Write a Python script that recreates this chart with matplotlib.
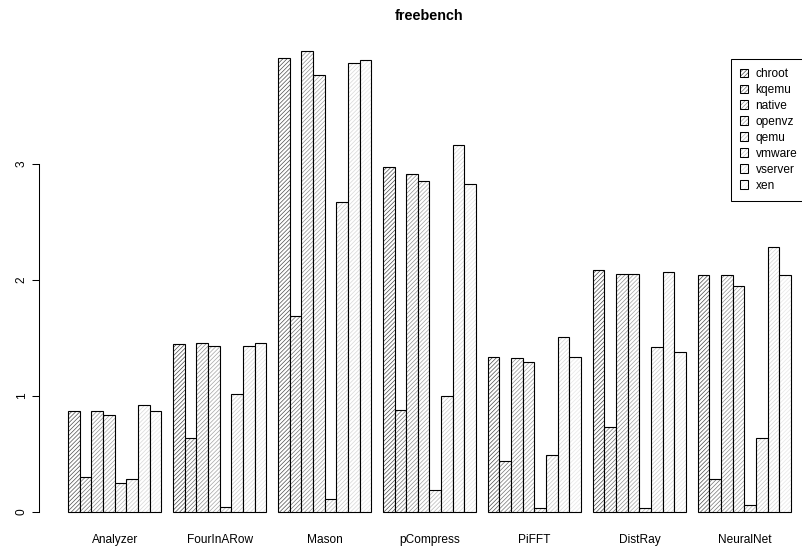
import matplotlib
matplotlib.use("Agg")
import matplotlib.pyplot as plt
from matplotlib.colors import to_rgba
from matplotlib.patches import Patch

plt.rcParams['font.family'] = ['Liberation Sans', 'DejaVu Sans']
plt.rcParams['hatch.linewidth'] = 0.5

benchmarks = ["Analyzer", "FourInARow", "Mason", "pCompress", "PiFFT", "DistRay", "NeuralNet"]
systems = ["chroot", "kqemu", "native", "openvz", "qemu", "vmware", "vserver", "xen"]

# runtime per benchmark, one list per virtualisation system
chroot  = [0.87, 1.45, 3.91, 2.97, 1.34, 2.09, 2.04]
kqemu   = [0.30, 0.64, 1.69, 0.88, 0.44, 0.73, 0.28]
native  = [0.87, 1.46, 3.97, 2.91, 1.33, 2.05, 2.04]
openvz  = [0.84, 1.43, 3.77, 2.85, 1.29, 2.05, 1.95]
qemu    = [0.25, 0.04, 0.11, 0.19, 0.03, 0.03, 0.06]
vmware  = [0.28, 1.02, 2.67, 1.00, 0.49, 1.42, 0.64]
vserver = [0.92, 1.43, 3.87, 3.16, 1.51, 2.07, 2.28]
xen     = [0.87, 1.46, 3.90, 2.83, 1.34, 1.38, 2.04]
series = [chroot, kqemu, native, openvz, qemu, vmware, vserver, xen]

# grey ramp for the hatch lines (dark -> light)
greys = ["#4d4d4d", "#737373", "#8e8e8e", "#a4a4a4", "#b7b7b7", "#c8c8c8", "#d7d7d7", "#e6e6e6"]
hatch = "////////"


def hatched(patch, grey):
    """Give a patch hatch lines in its own grey, independent of its outline."""
    patch.set_hatch(hatch)
    try:
        patch.set_hatchcolor(grey)
    except AttributeError:
        patch._hatch_color = to_rgba(grey)
    return patch


W, H = 802, 547
fig = plt.figure(figsize=(W / 100, H / 100), dpi=100)

n_groups = len(benchmarks)
n_bars = len(systems)
xmin, xmax = 1, 1 + n_groups * (n_bars + 1) - 1
xpad = 0.04 * (xmax - xmin)
ymax = max(max(s) for s in series)
ylo, yhi = -0.04 * ymax, ymax * 1.04

left_px, right_px = 39.1, 819.9
top_px, bottom_px = 33.0, 530.4
ax = fig.add_axes([left_px / W, 1 - bottom_px / H,
                   (right_px - left_px) / W, (bottom_px - top_px) / H])
ax.set_xlim(xmin - xpad, xmax + xpad)
ax.set_ylim(ylo, yhi)
ax.patch.set_alpha(0)

for i, (vals, grey) in enumerate(zip(series, greys)):
    lefts = [1 + g * (n_bars + 1) + i for g in range(n_groups)]
    bars = ax.bar(lefts, vals, width=1, align='edge', color='white',
                  edgecolor='black', linewidth=0.8)
    for b in bars:
        hatched(b, grey)

centers = [1 + g * (n_bars + 1) + n_bars / 2 for g in range(n_groups)]
ax.set_xticks(centers)
ax.set_xticklabels(benchmarks, fontsize=8.6)
ax.tick_params(axis='x', length=0, pad=2.4)

ax.set_yticks([0, 1, 2, 3])
ax.set_yticklabels(["0", "1", "2", "3"], fontsize=8.6, rotation=90)
for lbl in ax.get_yticklabels():
    lbl.set_va('center')
ax.tick_params(axis='y', length=5.2, width=0.75, direction='out', pad=3)
for side in ("top", "right", "bottom"):
    ax.spines[side].set_visible(False)
ax.spines['left'].set_bounds(0, 3)
ax.spines['left'].set_linewidth(0.75)

fig.text((left_px + right_px) / 2 / W, 1 - 16 / H, "freebench",
         ha='center', va='center', fontsize=10.4, fontweight='bold')

handles = [hatched(Patch(facecolor='white', edgecolor='black', linewidth=0.75), g)
           for g in greys]
leg = ax.legend(handles, systems, loc='upper left',
                bbox_to_anchor=(731 / W, 1 - 59 / H), bbox_transform=fig.transFigure,
                fontsize=8.6, handlelength=0.7, handleheight=0.7,
                handletextpad=0.6, labelspacing=0.33, borderpad=0.75,
                borderaxespad=0, fancybox=False, framealpha=1)
leg.get_frame().set_edgecolor('black')
leg.get_frame().set_linewidth(0.75)

fig.savefig("out.png", dpi=100)
